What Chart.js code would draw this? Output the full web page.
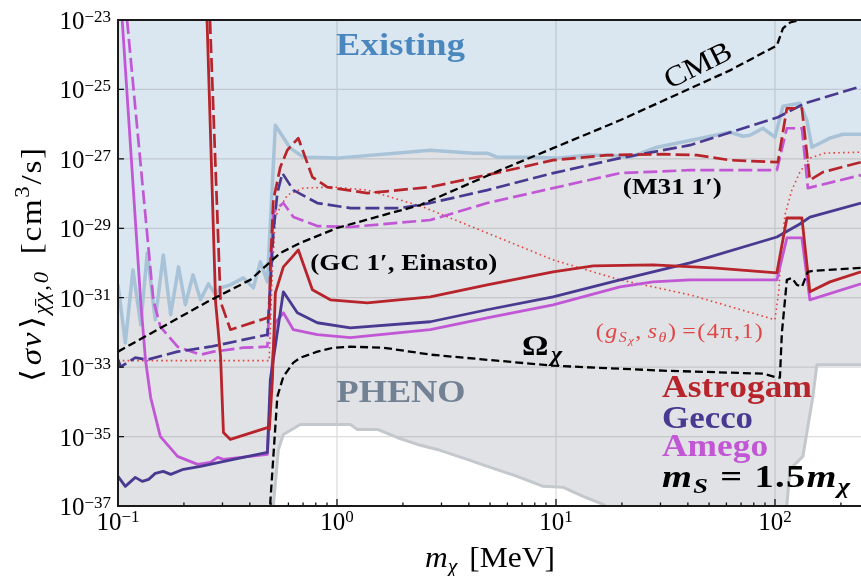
<!DOCTYPE html>
<html>
<head>
<meta charset="utf-8">
<script src="https://cdn.jsdelivr.net/npm/chart.js@4.4.1/dist/chart.umd.min.js"></script>
<style>
  html, body { margin: 0; padding: 0; background: #fff; }
  canvas { display: block; }
</style>
</head>
<body>
<canvas id="chart" width="861" height="576"></canvas>
<script>
// dark matter mass [MeV] and <sigma v> [cm^3/s] for every curve
const existingMass = [0.1, 0.108, 0.117, 0.127, 0.136, 0.148, 0.161, 0.174, 0.189, 0.203, 0.220, 0.238, 0.259, 0.279, 0.294, 0.326, 0.374, 0.415, 0.447, 0.481, 0.523, 0.612, 0.702, 1.0, 2.67, 4.19, 4.85, 5.39, 7.62, 10.1, 13.9, 17.7, 21.8, 28.9, 62.3, 71.4, 76.8, 88.1, 99.9, 108.7, 129.9, 139.8, 147.4, 160.4, 178.2, 204.2, 247];
const existingSigma = [2.35e-31, 5.06e-33, 6.34e-31, 1.66e-32, 1.95e-30, 2.32e-32, 1.71e-30, 3.23e-32, 7.73e-31, 6.25e-32, 4.55e-31, 8.71e-32, 2.51e-31, 1.21e-31, 1.92e-31, 2.35e-31, 3.73e-31, 1.92e-31, 1.08e-30, 2.86e-31, 9.29e-27, 2.03e-27, 1.12e-27, 1.05e-27, 1.78e-27, 1.46e-27, 1.46e-27, 1.12e-27, 1.12e-27, 1.05e-27, 1.28e-27, 1.28e-27, 1.12e-27, 2.17e-27, 5.85e-27, 4.49e-27, 4.80e-27, 7.62e-27, 4.21e-27, 3.27e-26, 3.99e-26, 1.29e-26, 2.17e-27, 2.82e-27, 3.94e-27, 5.13e-27, 5.13e-27];

const phenoMass = [0.1, 0.505, 0.512, 0.540, 0.569, 0.680, 1.15, 1.24, 1.53, 1.88, 2.33, 2.87, 3.93, 5.01, 6.65, 8.74, 10.8, 13.3, 16.4, 19.6, 105, 113.3, 117.0, 134.1, 148.9, 155.3, 247];
const phenoSigma = [1e-38, 1e-38, 1e-37, 4.26e-36, 1.15e-35, 2.23e-35, 2.23e-35, 1.60e-35, 1.60e-35, 9.42e-36, 5.93e-36, 4.26e-36, 2.20e-36, 1.29e-36, 7.13e-37, 3.68e-37, 3.44e-37, 1.90e-37, 1.12e-37, 5e-38, 5e-38, 1.05e-37, 1.14e-36, 2.68e-36, 1.42e-34, 1.18e-33, 1.18e-33];

const cmbMass = [0.1, 0.256, 0.402, 0.551, 0.680, 1.0, 1.63, 2.40, 5.56, 9.70, 19.6, 62.3, 102, 108.7, 117, 129.9, 140];
const cmbSigma = [2.79e-33, 7.62e-32, 3.27e-31, 1.95e-30, 3.79e-30, 1.02e-29, 2.41e-29, 4.68e-29, 4.73e-28, 2.03e-27, 1.29e-26, 3.54e-25, 1.85e-24, 5.70e-24, 8.47e-24, 1.0e-23, 1.1e-23];

const omegaMass = [0.494, 0.496, 0.534, 0.569, 0.632, 0.680, 0.813, 0.962, 1.15, 1.63, 2.67, 9.70, 30.8, 88.1, 102, 105.3, 107.5, 113.3, 119.4, 125.9, 132.7, 141.3, 148.9, 247];
const omegaSigma = [5e-38, 1.28e-37, 1.42e-34, 5.33e-34, 1.35e-33, 1.87e-33, 2.79e-33, 3.63e-33, 3.88e-33, 3.63e-33, 2.29e-33, 1.10e-33, 7.92e-34, 6.50e-34, 4.99e-34, 4.99e-34, 9.79e-33, 3.27e-31, 3.73e-31, 2.35e-31, 2.06e-31, 5.55e-31, 5.93e-31, 7.23e-31];

const couplingMass = [0.1, 0.49, 0.507, 0.523, 0.551, 0.593, 0.702, 0.962, 1.375, 1.945, 2.476, 4.85, 9.70, 19.6, 40.9, 99.9, 104.2, 106.4, 111.0, 119.4, 129.9, 144.3, 169.0, 247];
const couplingSigma = [1.54e-33, 1.54e-33, 6.34e-31, 2.11e-29, 4.09e-29, 9.06e-29, 1.44e-28, 1.54e-28, 1.26e-28, 6.50e-29, 4.09e-29, 7.33e-30, 1.23e-30, 3.27e-31, 1.21e-31, 2.32e-32, 1.69e-31, 1.71e-30, 2.41e-29, 1.26e-28, 4.15e-28, 1.05e-27, 1.46e-27, 1.56e-27];

const astroGcMass = [0.255, 0.279, 0.294, 0.303, 0.326, 0.481, 0.491, 0.507, 0.523, 0.569, 0.625, 0.666, 0.772, 0.932, 1.375, 2.665, 4.85, 9.70, 14.8, 27.7, 52.1, 102, 113.3, 132.7, 144.3, 178.2, 247];
const astroGcSigma = [1e-23, 7.62e-32, 2.00e-33, 1.31e-35, 8.26e-36, 1.82e-35, 1.60e-35, 4.38e-34, 1.38e-31, 7.73e-31, 1.50e-30, 2.38e-30, 1.69e-31, 8.71e-32, 7.13e-32, 1.06e-31, 2.35e-31, 5.55e-31, 8.26e-31, 8.81e-31, 7.23e-31, 5.20e-31, 1.98e-29, 1.98e-29, 1.48e-31, 2.86e-31, 5.55e-31];

const astroM31Mass = [0.263, 0.294, 0.303, 0.326, 0.481, 0.491, 0.496, 0.512, 0.551, 0.593, 0.666, 0.772, 0.903, 1.375, 2.665, 5.56, 9.70, 17.1, 30.8, 44.0, 62.3, 103.1, 113.3, 132.7, 144.3, 165.5, 247];
const astroM31Sigma = [1e-23, 7.62e-32, 4.50e-32, 1.20e-32, 2.64e-32, 2.64e-32, 7.73e-31, 6.50e-29, 5.77e-28, 1.78e-27, 3.94e-27, 2.98e-28, 1.54e-28, 1.03e-28, 1.54e-28, 4.15e-28, 9.18e-28, 1.28e-27, 1.36e-27, 1.28e-27, 9.18e-28, 8.04e-28, 2.86e-26, 2.86e-26, 2.44e-28, 4.15e-28, 8.04e-28];

const geccoGcMass = [0.1, 0.108, 0.120, 0.129, 0.138, 0.148, 0.161, 0.174, 0.199, 0.238, 0.337, 0.481, 0.496, 0.569, 0.659, 0.813, 1.15, 2.665, 4.85, 9.70, 19.6, 40.9, 102, 129.9, 144.3, 247];
const geccoGcSigma = [7.13e-37, 3.68e-37, 6.68e-37, 5.13e-37, 5.85e-37, 8.71e-37, 9.93e-37, 8.15e-37, 1.14e-36, 1.38e-36, 2.20e-36, 3.49e-36, 4.38e-34, 1.48e-31, 3.68e-32, 1.90e-32, 1.36e-32, 2.03e-32, 4.50e-32, 1.06e-31, 3.27e-31, 1.01e-30, 5.62e-30, 1.33e-29, 2.11e-29, 5.33e-29];

const geccoM31Mass = [0.1, 0.103, 0.120, 0.136, 0.187, 0.264, 0.481, 0.512, 0.534, 0.563, 0.632, 0.813, 1.15, 1.945, 2.665, 4.85, 9.70, 19.6, 40.9, 103.1, 136.9, 247];
const geccoM31Sigma = [1.64e-33, 1.03e-33, 1.87e-33, 1.64e-33, 2.79e-33, 3.88e-33, 8.59e-33, 7.33e-30, 1.03e-28, 3.88e-28, 1.26e-28, 5.33e-29, 3.83e-29, 3.83e-29, 5.33e-29, 1.26e-28, 3.88e-28, 1.05e-27, 2.48e-27, 1.58e-26, 3.99e-26, 1.23e-25];

const amegoGcMass = [0.1045, 0.127, 0.1335, 0.141, 0.156, 0.187, 0.231, 0.264, 0.285, 0.303, 0.481, 0.507, 0.523, 0.569, 0.632, 0.813, 1.15, 2.665, 4.85, 9.70, 19.6, 27.7, 40.9, 102, 113.3, 132.7, 144.3, 247];
const amegoGcSigma = [1e-23, 7.62e-32, 1.64e-33, 1.33e-34, 1.01e-35, 2.68e-36, 1.58e-36, 1.80e-36, 2.51e-36, 2.20e-36, 3.06e-36, 1.64e-33, 1.90e-32, 3.68e-32, 1.20e-32, 8.59e-33, 7.05e-33, 1.20e-32, 2.64e-32, 6.25e-32, 2.06e-31, 2.86e-31, 3.27e-31, 3.27e-31, 5.26e-30, 5.26e-30, 8.71e-32, 2.51e-31];

const amegoM31Mass = [0.110, 0.145, 0.156, 0.187, 0.238, 0.273, 0.374, 0.481, 0.512, 0.540, 0.569, 0.632, 0.813, 1.15, 2.665, 4.85, 9.70, 19.6, 40.9, 102, 113.3, 132.7, 141.3, 247];
const amegoM31Sigma = [1e-23, 8.71e-32, 1.46e-32, 3.88e-33, 2.29e-33, 2.79e-33, 3.63e-33, 3.88e-33, 2.75e-29, 4.09e-29, 5.33e-29, 2.11e-29, 1.16e-29, 1.09e-29, 1.73e-29, 5.33e-29, 1.44e-28, 3.88e-28, 4.73e-28, 4.73e-28, 7.62e-27, 7.62e-27, 1.44e-28, 3.40e-28];

// axis ticks
const massTicks = [0.1, 1, 10, 100];
const massTickExp = ['\u22121', '0', '1', '2'];
const sigmaTicks = [1e-23, 1e-25, 1e-27, 1e-29, 1e-31, 1e-33, 1e-35, 1e-37];
const sigmaTickExp = ['\u221223', '\u221225', '\u221227', '\u221229', '\u221231', '\u221233', '\u221235', '\u221237'];

const SERIF = '"Liberation Serif", "DejaVu Serif", serif';
const RED = '#b7242b';
const GECCO = '#4a3991';
const AMEGO = '#c257d6';
const DOT_RED = '#e8423c';
const BLUE_FILL = '#dae6f0';
const GRAY_FILL = '#e0e2e5';
const GRID = 'rgba(120,120,120,0.25)';

const f = (style, size) => `${style} ${size}px ${SERIF}`.trim();
const gap = px => ({ space: px });   // blank advance inside a label

// annotations, anchored in data coordinates (left/center of baseline)
const notes = [
  { parts: [['Existing', f('bold', 32)]], m: 1.95, s: 9.5e-25, align: 'center', width: 129, color: '#4b87bf' },
  { parts: [['PHENO', f('bold', 32)]], m: 1.96, s: 1.02e-34, align: 'center', width: 129, color: '#728294' },
  { parts: [['CMB', f('', 29)]], m: 46.4, s: 2.9e-25, align: 'center', width: 72, rot: -0.46 },
  { parts: [['(M31 1\u2032)', f('bold', 24)]], m: 20.2, s: 9.7e-29, width: 99 },
  { parts: [['(GC 1\u2032, Einasto)', f('bold', 24)]], m: 0.755, s: 6.3e-31, width: 187 },
  { parts: [['\u03A9', f('bold', 29)], ['\u03C7', f('bold italic', 21), 6]], m: 7.0, s: 2.29e-33, width: 40 },
  { parts: [['(', f('', 21)], ['g', f('italic', 21)], ['S', f('italic', 14), 4], ['\u03C7', f('italic', 11), 6],
            [',', f('', 21)], gap(5), ['s', f('italic', 21)], ['\u03B8', f('italic', 14), 4], [')', f('', 21)], gap(5), ['=(4\u03C0,1)', f('', 21)]],
    m: 15.2, s: 7.05e-33, width: 167, color: '#e04646' },
  { parts: [['Astrogam', f('bold', 31)]], m: 30.5, s: 1.42e-34, width: 150, color: RED },
  { parts: [['Gecco', f('bold', 31)]], m: 30.5, s: 1.82e-35, width: 91, color: GECCO },
  { parts: [['Amego', f('bold', 31)]], m: 30.5, s: 2.68e-36, width: 106, color: AMEGO },
  { parts: [['m', f('bold italic', 32)], ['S', f('bold italic', 22), 6], gap(11), ['=', f('bold', 32)], gap(11), ['1.5', f('bold', 32)],
            ['m', f('bold italic', 32)], ['\u03C7', f('bold italic', 22), 6]], m: 30.5, s: 3.44e-37, width: 188, maxScale: 1.2 }
];

const pts = (xs, ys) => xs.map((x, i) => ({ x, y: ys[i] }));

function curve(label, xs, ys, color, width, dash, extra) {
  return Object.assign({
    label, data: pts(xs, ys), borderColor: color, borderWidth: width, borderDash: dash,
    borderJoinStyle: 'round', pointRadius: 0, fill: false, tension: 0
  }, extra);
}

// split into glyphs, keeping combining marks with their base letter
function glyphs(t) {
  const out = [];
  for (const ch of t) {
    if (/[\u0300-\u036f]/.test(ch) && out.length) out[out.length - 1] += ch;
    else out.push(ch);
  }
  return out;
}

// draws a row of text pieces; blank gaps keep their size, a target width is
// reached by a slight stretch of the glyphs and then by letter spacing
function runs(ctx, parts, x, y, o) {
  ctx.save();
  ctx.translate(x, y);
  if (o.rot) ctx.rotate(o.rot);
  const items = [];
  let w = 0, spaces = 0, count = 0;
  for (const p of parts) {
    if (p.space) { items.push({ space: p.space }); spaces += p.space; continue; }
    const [t, font, dy] = p;
    ctx.font = font;
    for (const g of glyphs(t)) {
      const gw = ctx.measureText(g).width;
      items.push({ g, font, dy: dy || 0, gw });
      w += gw;
      count++;
    }
  }
  let sx = 1, letter = 0;
  if (o.width) {
    sx = Math.min((o.width - spaces) / w, o.maxScale || 1.14);
    const left = o.width - spaces - w * sx;
    if (count > 1) letter = left / (count - 1);
  }
  const total = o.width || (w + spaces);
  let cx = o.align === 'center' ? -total / 2 : o.align === 'right' ? -total : 0;
  ctx.fillStyle = o.color || '#000';
  ctx.textAlign = 'left';
  ctx.textBaseline = 'alphabetic';
  let drawn = 0;
  items.forEach(it => {
    if (it.space) { cx += it.space; return; }
    ctx.font = it.font;
    ctx.save();
    ctx.translate(cx, it.dy);
    ctx.scale(sx, 1);
    ctx.fillText(it.g, 0, 0);
    ctx.restore();
    drawn++;
    cx += it.gw * sx + (drawn < count ? letter : 0);
  });
  ctx.restore();
}

const frame = {
  id: 'frame',
  beforeDraw(chart) {
    const { ctx, chartArea: a } = chart;
    ctx.save();
    ctx.fillStyle = '#fff';
    ctx.fillRect(0, 0, chart.width, chart.height);
    ctx.fillStyle = GRAY_FILL;
    ctx.fillRect(a.left, a.top, a.right - a.left, a.bottom - a.top);
    ctx.restore();
  },
  // grid goes over the shaded regions but under the curves
  beforeDatasetsDraw(chart) {
    const { ctx, chartArea: a, scales: { x, y } } = chart;
    ctx.save();
    ctx.strokeStyle = GRID;
    ctx.lineWidth = 1.3;
    ctx.beginPath();
    massTicks.slice(1).forEach(v => {
      const px = x.getPixelForValue(v);
      ctx.moveTo(px, a.top); ctx.lineTo(px, a.bottom);
    });
    sigmaTicks.slice(1, -1).forEach(v => {
      const py = y.getPixelForValue(v);
      ctx.moveTo(a.left, py); ctx.lineTo(a.right, py);
    });
    ctx.stroke();
    ctx.restore();
  },
  afterDatasetsDraw(chart) {
    const { ctx, chartArea: a, scales: { x, y } } = chart;
    ctx.save();

    // inward ticks
    ctx.strokeStyle = '#111';
    ctx.lineWidth = 1.3;
    ctx.beginPath();
    massTicks.forEach(d => {
      for (let k = 1; k < 10; k++) {
        const v = k * d;
        if (v > x.max) break;
        const px = x.getPixelForValue(v);
        ctx.moveTo(px, a.bottom); ctx.lineTo(px, a.bottom - (k === 1 ? 7 : 3.5));
      }
    });
    sigmaTicks.forEach(v => {
      const py = y.getPixelForValue(v);
      ctx.moveTo(a.left, py); ctx.lineTo(a.left + 6, py);
    });
    ctx.stroke();

    // spines
    ctx.strokeStyle = '#1a1a1a';
    ctx.lineWidth = 2;
    ctx.beginPath();
    ctx.moveTo(a.right + 2, a.top); ctx.lineTo(a.left, a.top);
    ctx.lineTo(a.left, a.bottom); ctx.lineTo(a.right + 2, a.bottom);
    ctx.stroke();

    // tick labels
    massTicks.forEach((v, i) => {
      runs(ctx, [['10', f('', 25)], [massTickExp[i], f('', 17), -8]],
        x.getPixelForValue(v), a.bottom + 24, { align: 'center' });
    });
    sigmaTicks.forEach((v, i) => {
      runs(ctx, [['10', f('', 25)], [sigmaTickExp[i], f('', 17), -7]],
        a.left - 7, y.getPixelForValue(v) + 9, { align: 'right' });
    });

    // axis titles
    runs(ctx, [['m', f('italic', 29)], ['\u03C7', f('italic', 20), 6], gap(12), ['[MeV]', f('', 29)]],
      425, 567, { width: 130 });
    runs(ctx, [['\u27E8', f('', 29)], gap(2), ['\u03C3v', f('italic', 29)], gap(2), ['\u27E9', f('', 29)],
               ['\u03C7\u0304\u03C7,0', f('italic', 20), 7], gap(16), ['[cm', f('', 29)], ['3', f('', 20), -12], ['/s]', f('', 29)]],
      41, 265, { align: 'center', width: 234, rot: -Math.PI / 2 });

    // annotations
    notes.forEach(n => {
      runs(ctx, n.parts, x.getPixelForValue(n.m), y.getPixelForValue(n.s),
        { align: n.align, width: n.width, color: n.color, rot: n.rot, maxScale: n.maxScale });
    });
    ctx.restore();
  }
};

const datasets = [
  curve('CMB', cmbMass, cmbSigma, '#000', 2.3, [8, 4], { order: 1 }),
  curve('Omega', omegaMass, omegaSigma, '#000', 2.3, [8, 4], { order: 1 }),
  curve('Astrogam M31', astroM31Mass, astroM31Sigma, RED, 2.7, [14, 5], { order: 2 }),
  curve('Astrogam GC', astroGcMass, astroGcSigma, RED, 2.8, [], { order: 2 }),
  curve('Gecco M31', geccoM31Mass, geccoM31Sigma, GECCO, 2.7, [14, 5], { order: 3 }),
  curve('Gecco GC', geccoGcMass, geccoGcSigma, GECCO, 2.8, [], { order: 3 }),
  curve('Amego M31', amegoM31Mass, amegoM31Sigma, AMEGO, 2.7, [14, 5], { order: 3 }),
  curve('Amego GC', amegoGcMass, amegoGcSigma, AMEGO, 2.8, [], { order: 3 }),
  curve('Coupling', couplingMass, couplingSigma, DOT_RED, 1.6, [1.6, 3.2], { order: 4 }),
  curve('Existing', existingMass, existingSigma, '#a8c3d8', 3.5, [], { order: 5, fill: 'end', backgroundColor: BLUE_FILL }),
  curve('PHENO', phenoMass, phenoSigma, '#c3c8cd', 3, [], { order: 6, fill: 'start', backgroundColor: '#fff' })
];

new Chart(document.getElementById('chart'), {
  type: 'line',
  data: { datasets },
  options: {
    responsive: false,
    devicePixelRatio: 1,
    animation: false,
    layout: { padding: { left: 118, top: 20, right: 0, bottom: 70 } },
    scales: {
      x: { type: 'logarithmic', min: 0.1, max: 247, display: false },
      y: { type: 'logarithmic', min: 1e-37, max: 1e-23, display: false }
    },
    plugins: {
      legend: { display: false },
      tooltip: { enabled: false },
      filler: { drawTime: 'beforeDatasetsDraw' }
    }
  },
  plugins: [frame]
});
</script>
</body>
</html>
